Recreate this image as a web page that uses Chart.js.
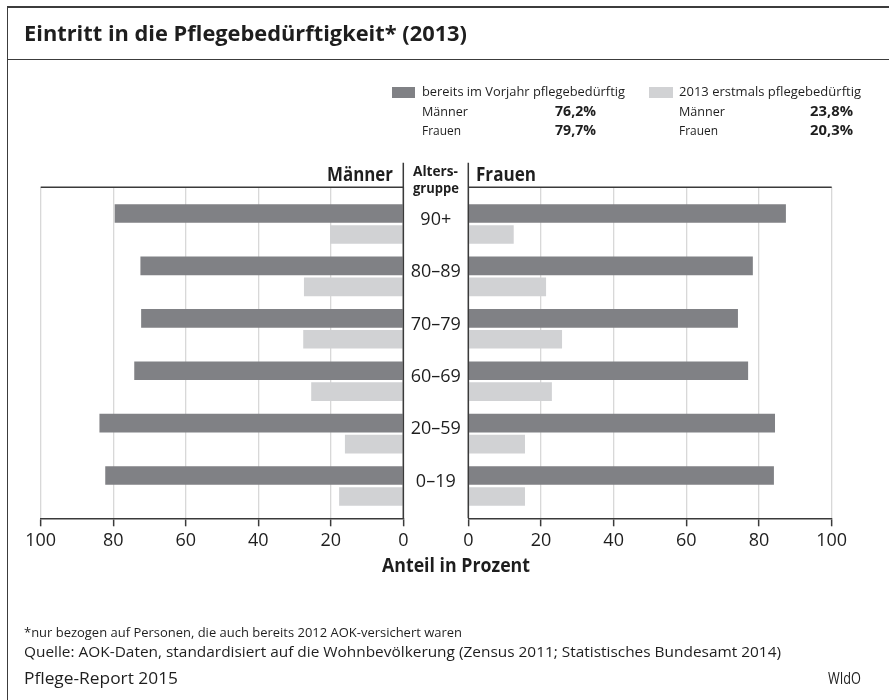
<!DOCTYPE html>
<html><head><meta charset="utf-8">
<script src="https://cdn.jsdelivr.net/npm/chart.js@4.4.1/dist/chart.umd.min.js"></script>
<style>
html,body{margin:0;padding:0;background:#fff;}
body{width:889px;height:700px;position:relative;overflow:hidden;font-family:"Open Sans","Noto Sans",sans-serif;color:#1e1e1e;}
.t{position:absolute;white-space:nowrap;line-height:1.2;transform-origin:0 0;}
canvas{position:absolute;left:0;top:0;}
.ln{position:absolute;background:#3c3c3c;}
.sw{position:absolute;}
</style></head><body>
<div class="ln" style="left:7px;top:6px;width:882px;height:1.5px"></div>
<div class="ln" style="left:6.5px;top:6px;width:1.5px;height:694px"></div>
<div class="ln" style="left:7px;top:58.7px;width:882px;height:1.5px"></div>
<div class="sw" style="left:391.7px;top:86.7px;width:23.3px;height:11.6px;background:#808185"></div>
<div class="sw" style="left:649px;top:86.7px;width:23.7px;height:11.6px;background:#d1d2d4"></div>
<canvas id="cL" width="889" height="700"></canvas>
<canvas id="cR" width="889" height="700"></canvas>
<script>
// ---- data ----
const ageGroups = ['90+', '80–89', '70–79', '60–69', '20–59', '0–19'];
const menPrev   = [79.6, 72.5, 72.3, 74.2, 83.8, 82.2];
const menNew    = [20.2, 27.4, 27.6, 25.4, 16.1, 17.7];
const womenPrev = [87.4, 78.3, 74.2, 77.0, 84.4, 84.1];
const womenNew  = [12.5, 21.4, 25.8, 23.0, 15.6, 15.6];
const xTicks    = [0, 20, 40, 60, 80, 100];
const seriesNames = ['bereits im Vorjahr pflegebedürftig', '2013 erstmals pflegebedürftig'];
const sexNames = ['Männer', 'Frauen'];
const prevShares = ['76,2%', '79,7%'];
const newShares  = ['23,8%', '20,3%'];

const DARK = '#808185', LIGHT = '#d1d2d4', INK = '#1e1e1e', AXIS = '#3a3a3a', GRID = '#d8d8d8';
const FAM = '"Open Sans","Noto Sans",sans-serif';

// ---- text helper (baseline placement + width fit) ----
function T(txt, x, base, size, weight, w, align) {
  const el = document.createElement('div');
  el.className = 't';
  el.style.fontSize = size + 'px';
  el.style.fontWeight = weight;
  el.appendChild(document.createTextNode(txt));
  const m = document.createElement('span');
  m.style.cssText = 'display:inline-block;width:0;height:0;vertical-align:baseline';
  el.appendChild(m);
  el.style.left = '0px'; el.style.top = '0px';
  document.body.appendChild(el);
  const nat = el.getBoundingClientRect().width;
  const off = m.offsetTop;
  const s = w / nat;
  let left = x;
  if (align === 'right') left = x - w;
  else if (align === 'center') left = x - w / 2;
  el.style.left = left + 'px';
  el.style.top = (base - off) + 'px';
  el.style.transform = 'scaleX(' + s + ')';
}

T('Eintritt in die Pflegebedürftigkeit* (2013)', 24, 40.7, 22, 700, 443, 'left');
T(seriesNames[0], 421.7, 95.7, 13.5, 400, 203, 'left');
T(sexNames[0], 421.7, 115.7, 13.5, 400, 46, 'left');
T(sexNames[1], 421.7, 135, 13.5, 400, 39, 'left');
T(prevShares[0], 596, 115.7, 13.5, 700, 41, 'right');
T(prevShares[1], 596, 135, 13.5, 700, 41, 'right');
T(seriesNames[1], 679, 95.7, 13.5, 400, 182, 'left');
T(sexNames[0], 679, 115.7, 13.5, 400, 46, 'left');
T(sexNames[1], 679, 135, 13.5, 400, 39, 'left');
T(newShares[0], 853.3, 115.7, 13.5, 700, 43, 'right');
T(newShares[1], 853.3, 135, 13.5, 700, 43, 'right');
T(sexNames[0], 392.7, 180.7, 19.5, 700, 66, 'right');
T(sexNames[1], 476, 180.7, 19.5, 700, 60, 'left');
T('Alters-', 435.8, 176, 13.5, 700, 45, 'center');
T('gruppe', 436, 192.7, 13.5, 700, 46, 'center');
T('Anteil in Prozent', 382, 571.7, 19, 700, 148, 'left');
T('*nur bezogen auf Personen, die auch bereits 2012 AOK-versichert waren', 24, 637, 12, 400, 438, 'left');
T('Quelle: AOK-Daten, standardisiert auf die Wohnbevölkerung (Zensus 2011; Statistisches Bundesamt 2014)', 24, 656.5, 14, 400, 757, 'left');
T('Pflege-Report 2015', 24, 683.5, 17, 400, 154, 'left');
T('WIdO', 861, 683.5, 17, 400, 33, 'right');

// ---- charts ----
const AREA_TOP = 187.3, AREA_BOTTOM = 518.3, X_H = 40;
const overlay = {
  id: 'overlay',
  afterDraw(chart, args, opts) {
    const ctx = chart.ctx, a = chart.chartArea, ys = chart.scales.y;
    ctx.save();
    ctx.strokeStyle = AXIS; ctx.lineWidth = 1.5;
    const ax = opts.side === 'left' ? a.right : a.left;
    ctx.beginPath(); ctx.moveTo(ax, 162.7); ctx.lineTo(ax, a.bottom); ctx.stroke();
    ctx.beginPath(); ctx.moveTo(a.left, a.top); ctx.lineTo(a.right, a.top); ctx.stroke();
    if (opts.side === 'left') {
      ctx.fillStyle = INK; ctx.font = '18px ' + FAM;
      ctx.textAlign = 'center'; ctx.textBaseline = 'middle';
      ageGroups.forEach((g, i) => ctx.fillText(g, 435.8, ys.getPixelForValue(i) - 4.3));
    }
    ctx.restore();
  }
};

function makeChart(id, prev, neu, side) {
  const padL = side === 'left' ? 40.7 : 468.3;
  const padR = side === 'left' ? 889 - 403.3 : 889 - 831.7;
  return new Chart(document.getElementById(id), {
    type: 'bar',
    data: {
      datasets: [
        { label: seriesNames[0], data: prev.map((v, i) => ({ x: v, y: i })), backgroundColor: DARK,
          borderWidth: 0, categoryPercentage: 0.8, barPercentage: 0.89 },
        { label: seriesNames[1], data: neu.map((v, i) => ({ x: v, y: i })), backgroundColor: LIGHT,
          borderWidth: 0, categoryPercentage: 0.8, barPercentage: 0.89 }
      ]
    },
    options: {
      indexAxis: 'y', responsive: false, animation: false, devicePixelRatio: 1,
      layout: { padding: { left: padL, right: padR, top: AREA_TOP, bottom: 700 - AREA_BOTTOM - X_H } },
      plugins: { legend: { display: false }, tooltip: { enabled: false }, overlay: { side } },
      scales: {
        x: {
          type: 'linear', min: 0, max: 100, reverse: side === 'left', position: 'bottom',
          afterBuildTicks: s => { s.ticks = xTicks.map(v => ({ value: v })); },
          afterFit: s => { s.height = X_H; },
          ticks: { font: { size: 18, family: FAM }, color: INK, padding: 4, maxRotation: 0, autoSkip: false },
          grid: { color: GRID, lineWidth: 1.3, tickColor: AXIS, tickLength: 8, tickWidth: 1.5 },
          border: { color: AXIS, width: 1.5 }
        },
        y: {
          type: 'linear', min: -0.70, max: 5.616, reverse: true, display: false, offset: false,
          grid: { offset: false },
          afterBuildTicks: s => { s.ticks = ageGroups.map((g, i) => ({ value: i })); }
        }
      }
    },
    plugins: [overlay]
  });
}
makeChart('cL', menPrev, menNew, 'left');
makeChart('cR', womenPrev, womenNew, 'right');
</script>
</body></html>
